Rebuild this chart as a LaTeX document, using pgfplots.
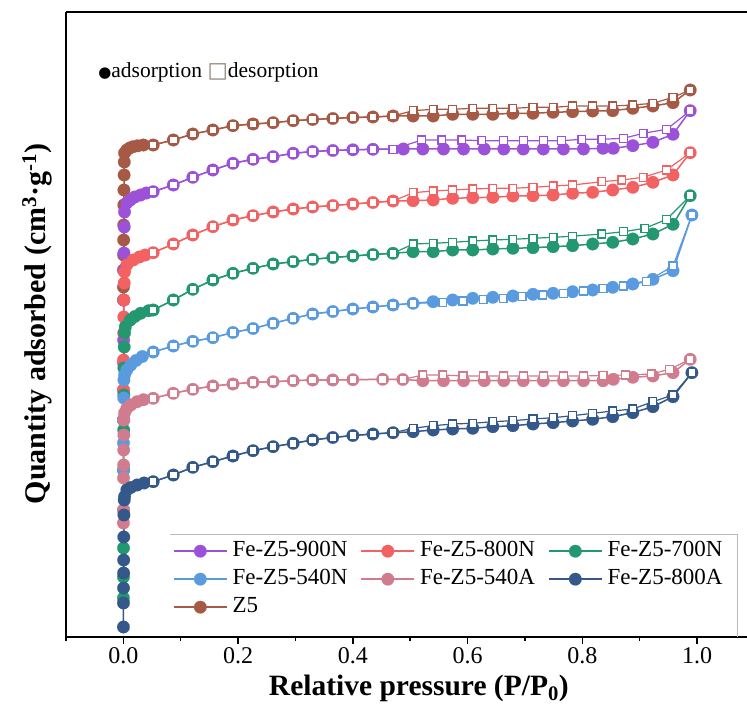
\documentclass[border=0pt]{standalone}
\usepackage{pgfplots}
\pgfplotsset{compat=1.18}
\usepackage{fontspec}
\setmainfont{Liberation Serif}
\newfontfamily\symfont{DejaVu Sans}

\definecolor{cZ}{HTML}{A65A45}
\definecolor{cP}{HTML}{9B51D8}
\definecolor{cR}{HTML}{F26262}
\definecolor{cG}{HTML}{229770}
\definecolor{cB}{HTML}{5A9BE0}
\definecolor{cK}{HTML}{D07C8E}
\definecolor{cD}{HTML}{345889}

% adsorption: filled circles; desorption: open squares
\tikzset{
  ads/.style={color=#1, line width=1.5pt, mark=*, mark size=6.3pt,
    mark options={solid, fill=#1, draw=#1, line width=0.1pt}},
  des/.style={color=#1, line width=1.2pt, mark=square*, mark size=3.9pt,
    mark options={solid, fill=white, draw=#1, line width=1.3pt}},
}

\begin{document}
\begin{tikzpicture}
\begin{axis}[
  width=681pt, height=625pt, scale only axis,
  xmin=-0.1, xmax=1.087, ymin=0, ymax=625,
  axis x line*=bottom, axis y line*=left,
  axis line style={line width=1.6pt, black},
  xtick={0,0.2,0.4,0.6,0.8,1.0},
  minor xtick={-0.1,0.1,0.3,0.5,0.7,0.9},
  ytick=\empty,
  tick align=outside,
  major tick length=7pt, minor tick length=4pt,
  tick style={line width=1.5pt, black},
  xticklabel style={font=\fontsize{24}{24}\selectfont},
  /pgf/number format/fixed,
  /pgf/number format/fixed zerofill,
  /pgf/number format/precision=1,
  /pgf/number format/assume math mode=true,
  clip=false,
  xlabel={\textbf{Relative pressure (P/P\textsubscript{0})}},
  ylabel={\textbf{Quantity adsorbed (cm\textsuperscript{3}·g\textsuperscript{-1})}},
  every axis x label/.style={at={(axis cs:0.515,-51)}, anchor=center,
    font=\fontsize{29.5}{31}\selectfont},
  every axis y label/.style={at={(axis cs:-0.1505,313)}, rotate=90, anchor=center,
    font=\fontsize{30}{32}\selectfont},
  legend columns=3,
  legend cell align=left,
  legend style={at={(axis cs:0.0863,103)}, anchor=north west, draw=none, fill=none,
    inner xsep=0pt, inner ysep=7pt, font=\fontsize{23}{26}\selectfont,
    row sep=8pt, column sep=0pt,
    /tikz/every odd column/.append style={column sep=5pt},
    nodes={inner sep=0pt, text height=15pt, text depth=5pt}},
  legend image code/.code={\draw[mark repeat=2, mark phase=2, #1]
    plot coordinates {(0pt,0pt) (26.5pt,0pt) (53pt,0pt)};},
]

\addlegendimage{ads=cP}\addlegendentry{\makebox[128pt][l]{Fe-Z5-900N}}
\addlegendimage{ads=cR}\addlegendentry{\makebox[128pt][l]{Fe-Z5-800N}}
\addlegendimage{ads=cG}\addlegendentry{\makebox[128pt][l]{Fe-Z5-700N}}
\addlegendimage{ads=cB}\addlegendentry{\makebox[128pt][l]{Fe-Z5-540N}}
\addlegendimage{ads=cK}\addlegendentry{\makebox[128pt][l]{Fe-Z5-540A}}
\addlegendimage{ads=cD}\addlegendentry{\makebox[128pt][l]{Fe-Z5-800A}}
\addlegendimage{ads=cZ}\addlegendentry{\makebox[128pt][l]{Z5}}

% ---------------- Z5 ----------------
\addplot[ads=cZ, forget plot] coordinates {
 (0.0001,337) (0.0002,350) (0.0003,367) (0.0004,382) (0.0005,397) (0.0006,412)
 (0.0008,432) (0.001,447) (0.0013,462) (0.0016,475) (0.002,484) (0.006,487)
 (0.011,489) (0.017,490.3) (0.025,491.2) (0.035,492) (0.052,492) (0.087,497)
 (0.121,503) (0.156,507) (0.191,511.3) (0.226,513) (0.261,514.3) (0.296,516.3)
 (0.330,517.5) (0.365,518.5) (0.400,519.5) (0.435,520) (0.470,521) (0.505,521)
 (0.540,521) (0.574,522.7) (0.609,522.7) (0.644,522.7) (0.679,523.7) (0.714,523.7)
 (0.749,524.7) (0.783,525.3) (0.818,526) (0.853,526.3) (0.888,528.7) (0.923,531)
 (0.958,534.3) (0.988,547)};
\addplot[des=cZ, forget plot] coordinates {
 (0.988,547) (0.958,539.7) (0.923,533.7) (0.888,532) (0.853,531) (0.818,531)
 (0.783,531) (0.749,529.7) (0.714,529.7) (0.679,528.7) (0.644,528.7) (0.609,528.7)
 (0.574,527.7) (0.540,527.7) (0.505,526.3) (0.470,521) (0.435,520) (0.400,519.5)
 (0.365,518.5) (0.330,517.5) (0.296,516.3) (0.261,514.3) (0.226,513) (0.191,511.3)
 (0.156,507) (0.121,503) (0.087,497) (0.052,492)};

% ---------------- Fe-Z5-900N ----------------
\addplot[ads=cP, forget plot] coordinates {
 (0.0001,217) (0.0002,247) (0.0003,274) (0.0004,297) (0.0006,337) (0.0008,367)
 (0.001,384) (0.0015,410) (0.002,425) (0.006,434) (0.012,437) (0.02,440)
 (0.03,442) (0.04,444) (0.052,445.3) (0.087,452) (0.121,459.7) (0.156,467)
 (0.191,473.7) (0.226,477.7) (0.261,480.3) (0.296,483.7) (0.330,485.5) (0.365,486.5)
 (0.400,487.2) (0.435,487.7) (0.488,488) (0.522,488) (0.558,488) (0.593,488)
 (0.629,488) (0.663,488) (0.697,488) (0.732,488) (0.767,488) (0.802,488)
 (0.836,488.7) (0.854,488.7) (0.888,491.3) (0.923,494.7) (0.958,502.7) (0.988,526.3)};
\addplot[des=cP, forget plot] coordinates {
 (0.988,526.3) (0.947,507.7) (0.906,503.7) (0.872,498.7) (0.834,497.7) (0.799,497.7)
 (0.764,496.3) (0.732,496.3) (0.697,496.3) (0.663,496.3) (0.625,496.3) (0.590,497)
 (0.555,497) (0.520,497) (0.470,487.7) (0.435,487.7) (0.400,487.2) (0.365,486.5)
 (0.330,485.5) (0.296,483.7) (0.261,480.3) (0.226,477.7) (0.191,473.7) (0.156,467)
 (0.121,459.7) (0.087,452) (0.052,445.3)};

% ---------------- Fe-Z5-800N ----------------
\addplot[ads=cR, forget plot] coordinates {
 (0.0001,217) (0.0002,247) (0.0003,277) (0.0005,304) (0.0007,320) (0.001,337)
 (0.0015,354) (0.002,365) (0.006,372) (0.017,377) (0.028,380) (0.038,382)
 (0.052,384.3) (0.087,393) (0.121,402) (0.156,410.3) (0.191,417) (0.226,421.3)
 (0.261,425) (0.296,428) (0.330,430) (0.365,431.5) (0.400,433) (0.435,434.5)
 (0.470,436) (0.505,436.3) (0.540,437) (0.574,438.7) (0.609,439.3) (0.644,439.7)
 (0.679,441) (0.714,441.3) (0.749,442) (0.783,443.7) (0.818,444.7) (0.853,447)
 (0.888,449.7) (0.923,454.7) (0.958,462) (0.988,484.3)};
\addplot[des=cR, forget plot] coordinates {
 (0.988,484.3) (0.947,467) (0.906,459.7) (0.869,457) (0.834,455.3) (0.783,452)
 (0.749,451) (0.714,449.7) (0.679,448.7) (0.644,448.7) (0.609,448) (0.574,447)
 (0.540,446) (0.505,444.3) (0.470,436) (0.435,434.5) (0.400,433) (0.365,431.5)
 (0.330,430) (0.296,428) (0.261,425) (0.226,421.3) (0.191,417) (0.156,410.3)
 (0.121,402) (0.087,393) (0.052,384.3)};

% ---------------- Fe-Z5-700N ----------------
\addplot[ads=cG, forget plot] coordinates {
 (0.0001,39) (0.0002,60) (0.0003,89) (0.0004,127) (0.0005,167) (0.0006,207)
 (0.0008,242) (0.001,269) (0.0015,290) (0.002,304) (0.0035,310.3) (0.012,317)
 (0.02,320.5) (0.03,323.7) (0.044,326.3) (0.052,327) (0.087,337) (0.121,347.7)
 (0.156,357) (0.191,363.7) (0.226,368.7) (0.261,373) (0.296,375.3) (0.330,377.7)
 (0.365,379.5) (0.400,381) (0.435,382.5) (0.470,383.7) (0.505,385.3) (0.540,385.3)
 (0.574,387) (0.609,387) (0.644,388) (0.679,388.7) (0.714,389.3) (0.749,390.3)
 (0.783,391.3) (0.818,393) (0.853,394.7) (0.888,398) (0.923,403) (0.958,412.7)
 (0.988,441.3)};
\addplot[des=cG, forget plot] coordinates {
 (0.988,441.3) (0.947,417.7) (0.909,408.7) (0.872,405.3) (0.834,403) (0.783,400.8)
 (0.749,399.7) (0.714,398.7) (0.679,397.7) (0.644,397) (0.609,396) (0.574,394.7)
 (0.540,393.7) (0.505,393) (0.470,383.7) (0.435,382.5) (0.400,381) (0.365,379.5)
 (0.330,377.7) (0.296,375.3) (0.261,373) (0.226,368.7) (0.191,363.7) (0.156,357)
 (0.121,347.7) (0.087,337) (0.052,327)};

% ---------------- Fe-Z5-540N ----------------
\addplot[ads=cB, forget plot] coordinates {
 (0.0001,167) (0.0002,194) (0.0004,217) (0.0007,239) (0.001,257) (0.002,262)
 (0.006,267) (0.013,272) (0.022,276.5) (0.033,280.5) (0.052,285) (0.087,291)
 (0.121,295.7) (0.156,299.3) (0.191,304.5) (0.226,308.5) (0.261,313.7) (0.296,318.7)
 (0.330,323) (0.365,325.5) (0.400,328) (0.435,330) (0.470,332) (0.505,333.7)
 (0.540,335.3) (0.574,337) (0.609,338.7) (0.644,339.7) (0.679,341) (0.714,342.7)
 (0.749,343.7) (0.783,345.3) (0.818,347) (0.853,349.7) (0.888,353) (0.923,357.7)
 (0.958,366.3) (0.991,422)};
\addplot[des=cB, forget plot] coordinates {
 (0.991,422) (0.958,371) (0.912,355.3) (0.871,351) (0.836,348.3) (0.802,346)
 (0.767,343.7) (0.731,342) (0.695,340.3) (0.662,338.7) (0.627,337.3) (0.592,336)
 (0.557,334.3) (0.505,333.7) (0.470,332) (0.435,330) (0.400,328) (0.365,325.5)
 (0.330,323) (0.296,318.7) (0.261,313.7) (0.226,308.5) (0.191,304.5) (0.156,299.3)
 (0.121,295.7) (0.087,291) (0.052,285)};

% ---------------- Fe-Z5-540A ----------------
\addplot[ads=cK, forget plot] coordinates {
 (0.0001,114) (0.0002,127) (0.0003,159) (0.0004,172) (0.0006,187) (0.0008,202)
 (0.001,217) (0.002,224) (0.006,228.7) (0.013,232) (0.024,235.3) (0.035,237.3)
 (0.052,238.7) (0.087,243.7) (0.121,247.7) (0.156,251) (0.191,253) (0.226,254.7)
 (0.261,255.3) (0.296,256.3) (0.330,257) (0.365,257) (0.400,257.3) (0.452,257.7)
 (0.487,257.5) (0.522,256.3) (0.558,256.3) (0.593,256.3) (0.629,256.3) (0.663,256.3)
 (0.697,256.3) (0.732,256.3) (0.767,256.3) (0.802,256.3) (0.836,256.3) (0.854,257.7)
 (0.888,259.7) (0.923,261) (0.958,264.3) (0.988,277.7)};
\addplot[des=cK, forget plot] coordinates {
 (0.988,277.7) (0.952,267.7) (0.920,263) (0.875,262) (0.836,261.5) (0.802,261)
 (0.767,261) (0.732,261) (0.697,261) (0.663,261) (0.627,261) (0.592,261)
 (0.557,262) (0.522,262) (0.487,257.5) (0.452,257.7) (0.400,257.3) (0.365,257)
 (0.330,257) (0.296,256.3) (0.261,255.3) (0.226,254.7) (0.191,253) (0.156,251)
 (0.121,247.7) (0.087,243.7) (0.052,238.7)};

% ---------------- Fe-Z5-800A ----------------
\addplot[ads=cD, forget plot] coordinates {
 (0.0001,10) (0.0002,34) (0.0003,49) (0.0004,64) (0.0005,77) (0.0007,100)
 (0.001,122) (0.0015,137) (0.002,140.3) (0.006,147) (0.013,149.5) (0.024,152)
 (0.036,154) (0.052,155.3) (0.087,162) (0.121,169.7) (0.156,175.3) (0.191,181)
 (0.226,186.3) (0.261,190.3) (0.296,193.7) (0.330,197) (0.365,199.5) (0.400,201.5)
 (0.435,203) (0.470,204.3) (0.505,205.3) (0.540,207) (0.574,208) (0.609,208.7)
 (0.644,210.3) (0.679,211.3) (0.714,213) (0.749,214.3) (0.783,216) (0.818,217.7)
 (0.853,220.3) (0.888,224.3) (0.923,230.3) (0.958,240.3) (0.991,264.3)};
\addplot[des=cD, forget plot] coordinates {
 (0.991,264.3) (0.958,242) (0.923,235.3) (0.888,228) (0.853,226) (0.818,223.7)
 (0.783,221.3) (0.749,219.3) (0.714,218) (0.679,216.3) (0.644,215.3) (0.609,213.7)
 (0.574,213) (0.540,211.3) (0.505,208.7) (0.470,204.3) (0.435,203) (0.400,201.5)
 (0.365,199.5) (0.330,197) (0.296,193.7) (0.261,190.3) (0.226,186.3) (0.191,181)
 (0.156,175.3) (0.121,169.7) (0.087,162) (0.052,155.3)};

% frame pieces: top border and the legend's open box
\draw[line width=1.6pt, black] (rel axis cs:0,1) -- (rel axis cs:1,1);
\draw[gray!55, line width=0.8pt] (axis cs:0.0819,103) -- (axis cs:1.0697,103) -- (axis cs:1.0697,0);

\node[anchor=west, font=\fontsize{21.5}{24}\selectfont, inner sep=0pt] at (axis cs:-0.044,565)
  {{\symfont\fontsize{15}{15}\selectfont ●}adsorption {\symfont\color{gray!80!brown}□}desorption};

\coordinate (SW) at (rel axis cs:0,0);
\coordinate (NE) at (rel axis cs:1,1);
\end{axis}
\pgfresetboundingbox
\path ([shift={(-66pt,-73pt)}]SW) rectangle ([shift={(0pt,12pt)}]NE);
\end{tikzpicture}
\end{document}
